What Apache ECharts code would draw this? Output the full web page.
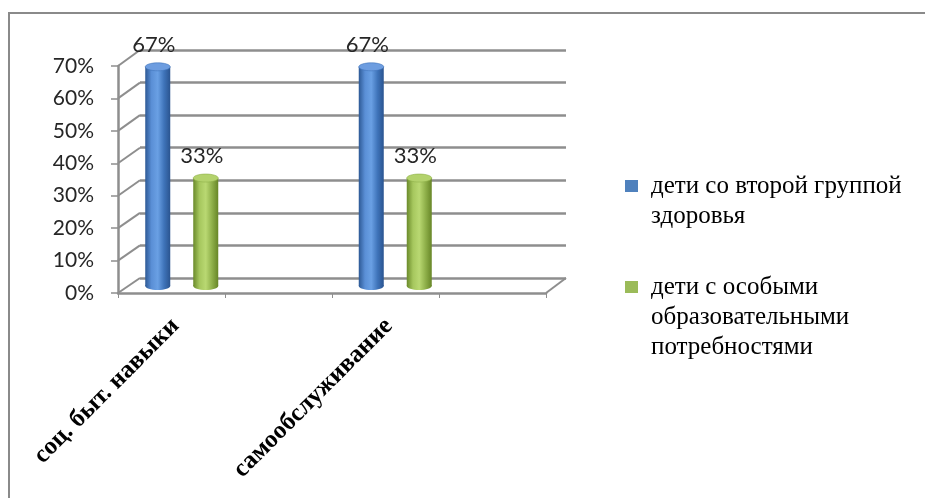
<!DOCTYPE html>
<html>
<head>
<meta charset="utf-8">
<script src="https://cdn.jsdelivr.net/npm/echarts@6/dist/echarts.min.js"></script>
<style>
  html, body { margin: 0; padding: 0; background: #fff; }
  #chart { width: 925px; height: 498px; }
</style>
</head>
<body>
<div id="chart"></div>
<script>
// данные
const categories = ["соц. быт. навыки", "самообслуживание"];
const seriesNames = [
  "дети со второй группой здоровья",
  "дети с особыми образовательными потребностями",
];
const healthGroup2 = [0.67, 0.67];
const specialNeeds = [0.33, 0.33];
const yMin = 0;
const yMax = 0.7;
const yStep = 0.1;

// переносы строк в легенде
const legendLines = {
  "дети со второй группой здоровья": ["дети со второй группой", "здоровья"],
  "дети с особыми образовательными потребностями": ["дети с особыми", "образовательными", "потребностями"],
};

const BAR_W = 25;
const GRID_COLOR = "#8e8e8e";
const SERIF = "Liberation Serif";
const pct = (v) => Math.round(v * 100) + "%";

const palettes = [
  {
    body: ["#2d5995", "#5a8fd6", "#6aa0e4", "#3f74ba", "#2a5490"],
    cap: "#6d9de0",
    legend: "#4f81bd",
  },
  {
    body: ["#6a8a2a", "#a6c75e", "#b9d872", "#8fb04a", "#678627"],
    cap: "#b3d26c",
    legend: "#9bbb59",
  },
];

function grad(colors) {
  const n = colors.length - 1;
  return new echarts.graphic.LinearGradient(0, 0, 1, 0,
    colors.map((c, i) => ({ offset: i / n, color: c })));
}

// цилиндр
function cylinder(offsetX, pal) {
  return function (params, api) {
    const cat = api.value(0);
    const val = api.value(1);
    const top = api.coord([cat, val]);
    const base = api.coord([cat, 0]);
    const cx = top[0] + offsetX;
    const x = cx - BAR_W / 2;
    const ry = 4;
    return {
      type: "group",
      children: [
        {
          type: "ellipse",
          shape: { cx: cx, cy: base[1], rx: BAR_W / 2, ry: ry },
          style: { fill: grad(pal.body) },
        },
        {
          type: "rect",
          shape: { x: x, y: top[1], width: BAR_W, height: base[1] - top[1] },
          style: { fill: grad(pal.body) },
        },
        {
          type: "ellipse",
          shape: { cx: cx, cy: top[1], rx: BAR_W / 2, ry: ry },
          style: { fill: pal.cap, stroke: pal.body[3], lineWidth: 0.6 },
        },
        {
          type: "text",
          x: cx - 4,
          y: top[1] - 22,
          style: {
            text: pct(val),
            font: "22px Lato",
            fill: "#262626",
            align: "center",
            verticalAlign: "middle",
          },
        },
      ],
    };
  };
}

function legendFor(i, top) {
  const name = seriesNames[i];
  return {
    orient: "vertical",
    left: 625,
    top: top,
    padding: 0,
    icon: "rect",
    itemWidth: 13,
    itemHeight: 12,
    selectedMode: false,
    data: [{ name: name, itemStyle: { color: palettes[i].legend } }],
    textStyle: {
      fontFamily: SERIF,
      fontSize: 25,
      lineHeight: 30,
      color: "#000",
      padding: [0, 0, 0, 8],
    },
    // пустые строки сверху, чтобы маркер стоял у первой строки
    formatter: (n) => {
      const lines = legendLines[n];
      return new Array(lines.length - 1).fill("").concat(lines).join("\n");
    },
  };
}

const chart = echarts.init(document.getElementById("chart"));

const option = {
  backgroundColor: "#fff",
  animation: false,
  grid: [
    // передняя ось
    { left: 118, top: 66, width: 428, height: 227 },
    // задняя стенка
    { left: 140, top: 50, width: 426, height: 228 },
    // столбики
    { left: 75, top: 57, width: 427, height: 229 },
  ],
  xAxis: [
    {
      gridIndex: 0, type: "value", min: 0, max: 4, interval: 1,
      axisLine: { lineStyle: { color: GRID_COLOR, width: 2.5 } },
      axisTick: { show: true, length: 5, lineStyle: { color: GRID_COLOR, width: 1 } },
      axisLabel: { show: false },
      splitLine: { show: false },
    },
    {
      gridIndex: 1, type: "value", min: 0, max: 1, show: false,
    },
    {
      gridIndex: 2, type: "category", data: categories,
      axisLine: { show: false },
      axisTick: { show: false },
      axisLabel: {
        interval: 0, rotate: 45, margin: 30,
        padding: [0, 9, 0, 0],
        fontFamily: SERIF, fontWeight: "bold", fontSize: 25, color: "#000",
      },
    },
  ],
  yAxis: [
    {
      gridIndex: 0, type: "value", min: yMin, max: yMax, interval: yStep,
      axisLine: { show: true, lineStyle: { color: GRID_COLOR, width: 2.5 } },
      axisTick: { show: true, length: 7, lineStyle: { color: GRID_COLOR, width: 1.5 } },
      axisLabel: { formatter: pct, fontFamily: "Lato", fontSize: 21, color: "#262626", margin: 24 },
      splitLine: { show: false },
    },
    {
      gridIndex: 1, type: "value", min: yMin, max: yMax, interval: yStep,
      axisLine: { show: false },
      axisTick: { show: false },
      axisLabel: { show: false },
      splitLine: { show: true, lineStyle: { color: GRID_COLOR, width: 2.5 } },
    },
    {
      gridIndex: 2, type: "value", min: yMin, max: yMax, interval: yStep, show: false,
    },
  ],
  legend: [legendFor(0, 141), legendFor(1, 212)],
  series: [
    {
      name: seriesNames[0],
      type: "custom",
      xAxisIndex: 2, yAxisIndex: 2,
      itemStyle: { color: palettes[0].legend },
      encode: { x: 0, y: 1 },
      data: healthGroup2.map((v, i) => [i, v]),
      renderItem: cylinder(-24, palettes[0]),
    },
    {
      name: seriesNames[1],
      type: "custom",
      xAxisIndex: 2, yAxisIndex: 2,
      itemStyle: { color: palettes[1].legend },
      encode: { x: 0, y: 1 },
      data: specialNeeds.map((v, i) => [i, v]),
      renderItem: cylinder(24, palettes[1]),
    },
  ],
};

chart.setOption(option);

// боковая стенка и рамка
const wall = [];
for (let v = yMin; v <= yMax + 1e-9; v += yStep) {
  const p0 = chart.convertToPixel({ xAxisIndex: 0, yAxisIndex: 0 }, [0, v]);
  const p1 = chart.convertToPixel({ xAxisIndex: 1, yAxisIndex: 1 }, [0, v]);
  wall.push({
    type: "line", silent: true,
    shape: { x1: p0[0], y1: p0[1], x2: p1[0], y2: p1[1] },
    style: { stroke: GRID_COLOR, lineWidth: 2 },
  });
}
const f0 = chart.convertToPixel({ xAxisIndex: 0, yAxisIndex: 0 }, [4, 0]);
const f1 = chart.convertToPixel({ xAxisIndex: 1, yAxisIndex: 1 }, [1, 0]);
wall.push({
  type: "line", silent: true,
  shape: { x1: f0[0], y1: f0[1], x2: f1[0], y2: f1[1] },
  style: { stroke: GRID_COLOR, lineWidth: 2 },
});
wall.push({
  type: "rect", silent: true,
  shape: { x: 9, y: 13, width: 1000, height: 1000 },
  style: { fill: "none", stroke: "#8a8a8a", lineWidth: 2 },
});
chart.setOption({ graphic: wall });
</script>
</body>
</html>
